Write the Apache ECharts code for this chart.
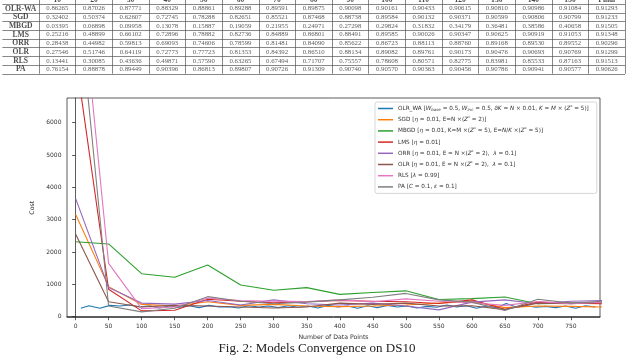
<!DOCTYPE html>
<html>
<head>
<meta charset="utf-8">
<script src="https://cdn.jsdelivr.net/npm/echarts@6.0.0/dist/echarts.min.js"></script>
<style>
html, body { margin: 0; padding: 0; background: #fff; }
#chart { width: 640px; height: 361px; }
</style>
</head>
<body>
<div id="chart"></div>
<script>
// table at the top
var tableCols = ['', '10', '20', '30', '40', '50', '60', '70', '80', '90', '100', '110', '120', '130', '140', '150', 'Final'];
var tableRows = ['OLR-WA', 'SGD', 'MBGD', 'LMS', 'ORR', 'OLR', 'RLS', 'PA'];
var rowOLRWA = ['0.86265','0.87026','0.87771','0.88329','0.88861','0.89288','0.89591','0.89875','0.90098','0.90161','0.90433','0.90615','0.90810','0.90986','0.91084','0.91293'];
var rowSGD   = ['0.32402','0.50374','0.62607','0.72745','0.78288','0.82651','0.85521','0.87468','0.88738','0.89584','0.90132','0.90371','0.90599','0.90806','0.90799','0.91233'];
var rowMBGD  = ['0.03395','0.06898','0.09958','0.13078','0.15887','0.19059','0.21955','0.24971','0.27298','0.29824','0.31832','0.34179','0.36481','0.38586','0.40658','0.91505'];
var rowLMS   = ['0.25216','0.48899','0.66102','0.72896','0.78882','0.82736','0.84889','0.86801','0.88491','0.89585','0.90026','0.90347','0.90625','0.90919','0.91053','0.91348'];
var rowORR   = ['0.28438','0.44982','0.59813','0.69093','0.74606','0.78599','0.81481','0.84090','0.85622','0.86723','0.88113','0.88760','0.89168','0.89530','0.89552','0.90296'];
var rowOLR   = ['0.27546','0.51746','0.64119','0.72773','0.77723','0.81353','0.84392','0.86510','0.88134','0.89082','0.89761','0.90173','0.90476','0.90693','0.90769','0.91299'];
var rowRLS   = ['0.13441','0.30085','0.43636','0.49871','0.57590','0.63265','0.67494','0.71707','0.75557','0.78608','0.80571','0.82775','0.83981','0.85533','0.87163','0.91513'];
var rowPA    = ['0.76154','0.88878','0.89449','0.90396','0.86813','0.89807','0.90726','0.91309','0.90740','0.90570','0.90363','0.90456','0.90786','0.90941','0.90577','0.90626'];
var tableVals = [rowOLRWA, rowSGD, rowMBGD, rowLMS, rowORR, rowOLR, rowRLS, rowPA];

// convergence chart
var xTicks = [0, 50, 100, 150, 200, 250, 300, 350, 400, 450, 500, 550, 600, 650, 700, 750];
var yTicks = [0, 1000, 2000, 3000, 4000, 5000, 6000];
var steps = [0, 50, 100, 150, 200, 250, 300, 350, 400, 450, 500, 550, 600, 650, 700, 750, 800];

var olrwaX = [8,20,37,52,67,82,97,112,127,142,157,172,187,202,217,232,247,262,277,292,307,322,337,352,367,382,397,412,427,442,457,472,487,502,517,532,547,562,577,592,607,622,637,652,667,682,697,712,727,742,757,772,787];
var olrwa  = [260,340,260,350,330,360,300,340,270,330,290,340,280,350,300,310,270,340,300,330,280,340,290,330,270,350,300,330,260,340,280,350,300,330,270,320,290,360,300,340,260,330,280,410,300,340,290,320,280,330,260,340,300];
var sgd  = [3170, 930, 380, 330, 460, 350, 380, 330, 310, 330, 360, 420, 470, 280, 330, 320, 300];
var mbgd = [2320, 2250, 1330, 1220, 1600, 980, 820, 900, 690, 750, 800, 530, 560, 610, 400, 420, 440];
var lms  = [8060, 850, 180, 200, 540, 480, 430, 460, 500, 480, 460, 410, 520, 230, 450, 420, 400];
var orr  = [3660, 900, 420, 390, 500, 360, 520, 400, 360, 420, 330, 210, 450, 520, 400, 480, 500];
var olr  = [2560, 460, 300, 350, 330, 300, 270, 300, 420, 380, 420, 330, 340, 220, 420, 400, 440];
var rls  = [11950, 1650, 250, 300, 570, 500, 480, 470, 520, 460, 550, 480, 430, 350, 470, 400, 450];
var pa   = [10700, 330, 150, 260, 620, 480, 400, 450, 520, 600, 720, 520, 450, 190, 540, 420, 480];

var names = ['OLR_WA', 'SGD', 'MBGD', 'LMS', 'ORR', 'OLR', 'RLS', 'PA'];
var colors = ['#1f77b4', '#ff7f0e', '#2ca02c', '#d62728', '#9467bd', '#8c564b', '#e377c2', '#7f7f7f'];
var legendText = {
	'OLR_WA': 'OLR_WA [{i|W}{s|base} = 0.5, {i|W}{s|inc} = 0.5, {i|δK} = {i|N} × 0.01, {i|K} = {i|M} × ({i|Z}{p|*} = 5)]',
	'SGD': 'SGD [{i|η} = 0.01, E=N ×({i|Z}{p|*} = 2)]',
	'MBGD': 'MBGD [{i|η} = 0.01, K=M ×({i|Z}{p|*} = 5), E={i|N}/{i|K} ×({i|Z}{p|*} = 5)]',
	'LMS': 'LMS [{i|η} = 0.01]',
	'ORR': 'ORR [{i|η} = 0.01, E = N ×({i|Z}{p|*} = 2),  {i|λ} = 0.1]',
	'OLR': 'OLR [{i|η} = 0.01, E = N ×({i|Z}{p|*} = 2),  {i|λ} = 0.1]',
	'RLS': 'RLS [{i|λ} = 0.99]',
	'PA': 'PA [{i|C} = 0.1, {i|ε} = 0.1]'
};

function pairs(xs, ys) {
	return xs.map((x, i) => [x, ys[i]]);
}

var lineData = [pairs(olrwaX, olrwa), pairs(steps, sgd), pairs(steps, mbgd), pairs(steps, lms),
	pairs(steps, orr), pairs(steps, olr), pairs(steps, rls), pairs(steps, pa)];

var headCells = [];
var valueCells = [];
for (let c = 1; c < tableCols.length; c++) headCells.push([c, 0, tableCols[c]]);
for (let r = 0; r < tableRows.length; r++) {
	headCells.push([0, r + 1, tableRows[r]]);
	for (let c = 0; c < tableVals[r].length; c++) valueCells.push([c + 1, r + 1, tableVals[r][c]]);
}
var rowCats = ['hdr'].concat(tableRows);

var axisColor = '#333';
var sans = 'DejaVu Sans';
var serif = 'Liberation Serif';

var series = names.map((n, i) => ({
	name: n,
	type: 'line',
	xAxisIndex: 0,
	yAxisIndex: 0,
	data: lineData[i],
	showSymbol: false,
	symbol: 'none',
	color: colors[i],
	lineStyle: { width: 1.1, color: colors[i] },
	z: 2 + i
}));

series.push({
	type: 'scatter',
	xAxisIndex: 1,
	yAxisIndex: 1,
	data: valueCells,
	symbolSize: 1,
	itemStyle: { color: 'rgba(0,0,0,0)' },
	label: {
		show: true,
		position: 'inside',
		formatter: p => p.data[2],
		fontFamily: serif,
		fontSize: 6.8,
		color: '#333'
	}
});
series.push({
	type: 'scatter',
	xAxisIndex: 1,
	yAxisIndex: 1,
	data: headCells,
	symbolSize: 1,
	itemStyle: { color: 'rgba(0,0,0,0)' },
	label: {
		show: true,
		position: 'inside',
		formatter: p => p.data[2],
		fontFamily: serif,
		fontWeight: 'bold',
		fontSize: 7.6,
		color: '#222'
	}
});

var option = {
	animation: false,
	backgroundColor: '#fff',
	grid: [
		{ left: 67, top: 98, width: 533, height: 219.5, outerBoundsMode: 'none', show: true, borderColor: axisColor, borderWidth: 0.8 },
		{ left: 2.4, top: -4.5, width: 622.6, height: 78.3, outerBoundsMode: 'none' }
	],
	legend: {
		data: names,
		orient: 'vertical',
		left: 375,
		top: 102,
		padding: [3, 8, 3, 3],
		itemGap: 4.2,
		itemWidth: 15,
		itemHeight: 1.5,
		icon: 'rect',
		backgroundColor: '#fff',
		borderColor: '#ccc',
		borderWidth: 0.8,
		borderRadius: 2,
		selectedMode: false,
		formatter: n => legendText[n],
		textStyle: {
			fontFamily: sans,
			fontSize: 5.7,
			lineHeight: 7,
			color: '#333',
			rich: {
				i: { fontFamily: sans, fontStyle: 'italic', fontSize: 5.7, color: '#333' },
				s: { fontFamily: sans, fontStyle: 'italic', fontSize: 4, color: '#333', verticalAlign: 'bottom', lineHeight: 5 },
				p: { fontFamily: sans, fontSize: 4, color: '#333', verticalAlign: 'top', lineHeight: 5 }
			}
		}
	},
	xAxis: [
		{
			type: 'value',
			gridIndex: 0,
			min: -13,
			max: 794,
			name: 'Number of Data Points',
			nameLocation: 'middle',
			nameGap: 17,
			nameTextStyle: { fontFamily: sans, fontSize: 6.2, color: axisColor },
			axisLine: { show: true, lineStyle: { color: axisColor, width: 0.8 } },
			axisTick: { show: true, length: 3.5, customValues: xTicks, lineStyle: { color: axisColor, width: 0.8 } },
			axisLabel: { customValues: xTicks, formatter: v => String(v), fontFamily: sans, fontSize: 6, color: axisColor, margin: 6 },
			splitLine: { show: false }
		},
		{
			type: 'category',
			gridIndex: 1,
			data: tableCols,
			axisLine: { show: false },
			axisTick: { show: false },
			axisLabel: { show: false },
			splitLine: { show: true, interval: (idx) => idx > 0, lineStyle: { color: '#555', width: 0.7 } }
		}
	],
	yAxis: [
		{
			type: 'value',
			gridIndex: 0,
			min: -25,
			max: 6765,
			name: 'Cost',
			nameLocation: 'middle',
			nameGap: 32,
			nameTextStyle: { fontFamily: sans, fontSize: 6.2, color: axisColor },
			axisLine: { show: true, lineStyle: { color: axisColor, width: 0.8 } },
			axisTick: { show: true, length: 3.5, customValues: yTicks, lineStyle: { color: axisColor, width: 0.8 } },
			axisLabel: { customValues: yTicks, formatter: v => String(v), fontFamily: sans, fontSize: 6, color: axisColor, margin: 5.5 },
			splitLine: { show: false }
		},
		{
			type: 'category',
			gridIndex: 1,
			inverse: true,
			data: rowCats,
			axisLine: { show: false },
			axisTick: { show: false },
			axisLabel: { show: false },
			splitLine: { show: true, interval: 0, lineStyle: { color: '#555', width: 0.7 } }
		}
	],
	graphic: [
		{
			type: 'text',
			x: 317,
			y: 349,
			style: {
				text: 'Fig. 2: Models Convergence on DS10',
				font: '13px "Liberation Serif"',
				fill: '#222',
				align: 'center',
				verticalAlign: 'middle'
			}
		}
	],
	series: series
};

var chart = echarts.init(document.getElementById('chart'), null, { renderer: 'canvas' });
chart.setOption(option);
</script>
</body>
</html>
